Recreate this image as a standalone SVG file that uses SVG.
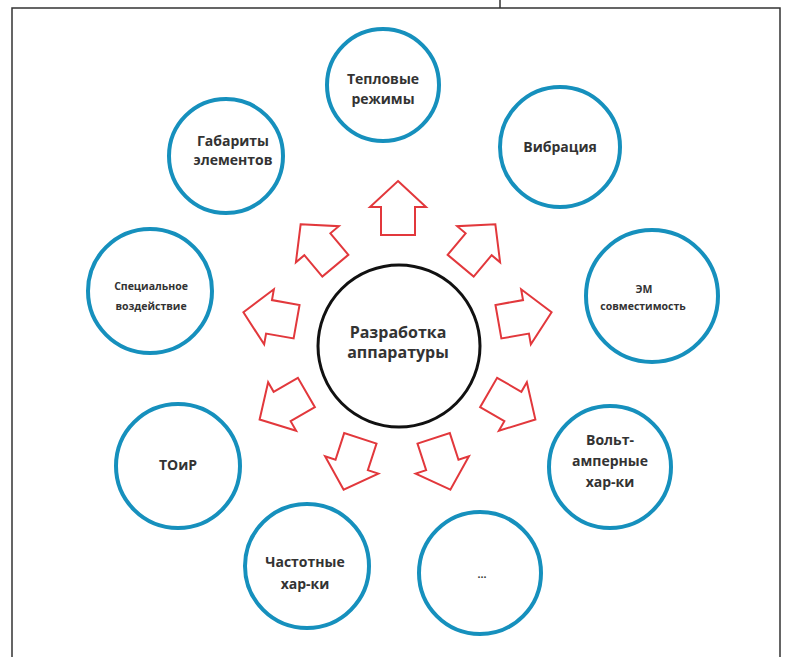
<svg xmlns="http://www.w3.org/2000/svg" width="787" height="657" viewBox="0 0 787 657">
<defs>
<style>
.frame{fill:none;stroke:#333;stroke-width:1.5}
.node{fill:#fff;stroke:#1690bd;stroke-width:4}
.center{fill:#fff;stroke:#111;stroke-width:3}
.arrow{fill:#fff;stroke:#e2383c;stroke-width:2;stroke-linejoin:miter}
.t{font-family:"Open Sans","Liberation Sans",sans-serif;font-weight:bold;fill:#333;text-anchor:middle}
.big{font-size:14px}
.sm{font-size:10.5px}
.ctr{font-size:16px}
</style>
<path id="arr" d="M0,-27 L28,-1 L17,-1 L17,27 L-17,27 L-17,-1 L-28,-1 Z"/>
</defs>
<rect width="787" height="657" fill="#fff"/>
<g id="frame">
<path class="frame" d="M12,657 V8 H780 V657"/>
<path class="frame" d="M500,0 V8"/>
</g>
<g id="connectors">
<use href="#arr" class="arrow" transform="translate(398,208) rotate(0)"/>
<use href="#arr" class="arrow" transform="translate(318,245) rotate(-40)"/>
<use href="#arr" class="arrow" transform="translate(478,245) rotate(40)"/>
<use href="#arr" class="arrow" transform="translate(270,317) rotate(-80)"/>
<use href="#arr" class="arrow" transform="translate(525,317) rotate(80)"/>
<use href="#arr" class="arrow" transform="translate(283,406) rotate(-120)"/>
<use href="#arr" class="arrow" transform="translate(512,406) rotate(120)"/>
<use href="#arr" class="arrow" transform="translate(352,464) rotate(-162)"/>
<use href="#arr" class="arrow" transform="translate(442,464) rotate(162)"/>
</g>
<g id="center">
<circle class="center" cx="399" cy="346" r="81"/>
<text class="t ctr" x="398" y="338">Разработка</text>
<text class="t ctr" x="398" y="358">аппаратуры</text>
</g>
<g id="n-teplo">
<circle class="node" cx="383" cy="85" r="56"/>
<text class="t big" x="383" y="84">Тепловые</text>
<text class="t big" x="383" y="104">режимы</text>
</g>
<g id="n-vibr">
<circle class="node" cx="560" cy="147" r="60"/>
<text class="t big" x="560" y="152">Вибрация</text>
</g>
<g id="n-gabar">
<circle class="node" cx="226" cy="156" r="57"/>
<text class="t big" x="233" y="146">Габариты</text>
<text class="t big" x="233" y="165">элементов</text>
</g>
<g id="n-spec">
<circle class="node" cx="150" cy="291" r="62"/>
<text class="t sm" x="151" y="290">Специальное</text>
<text class="t sm" x="151" y="310">воздействие</text>
</g>
<g id="n-em">
<circle class="node" cx="652" cy="296" r="66"/>
<text class="t sm" x="644" y="293">ЭМ</text>
<text class="t sm" x="643" y="310">совместимость</text>
</g>
<g id="n-volt">
<circle class="node" cx="610" cy="467" r="61"/>
<text class="t big" x="610" y="445">Вольт-</text>
<text class="t big" x="610" y="466">амперные</text>
<text class="t big" x="610" y="487">хар-ки</text>
</g>
<g id="n-toir">
<circle class="node" cx="178" cy="466" r="62"/>
<text class="t big" x="178" y="470">ТОиР</text>
</g>
<g id="n-chast">
<circle class="node" cx="307" cy="566" r="62"/>
<text class="t big" x="305" y="567">Частотные</text>
<text class="t big" x="305" y="589">хар-ки</text>
</g>
<g id="n-dots">
<circle class="node" cx="480" cy="573" r="61"/>
<text class="t sm" x="482" y="578">...</text>
</g>
</svg>
